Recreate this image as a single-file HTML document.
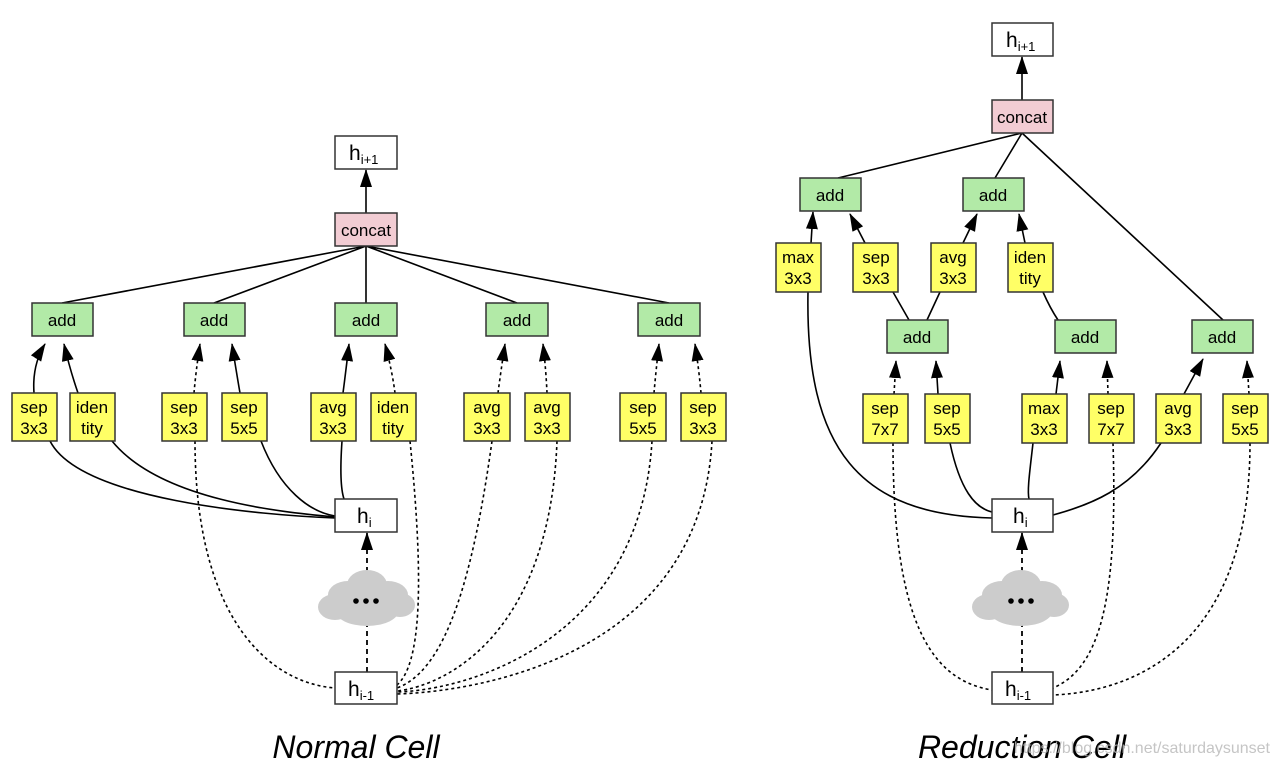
<!DOCTYPE html>
<html><head><meta charset="utf-8"><style>
html,body{margin:0;padding:0;background:#fff;}
svg{display:block;}
text{font-family:"Liberation Sans",Arial,sans-serif;fill:#000;}
.b{stroke:#333;stroke-width:1.5;}
.w{fill:#fff;}.p{fill:#f2ccd3;}.g{fill:#b2eaa7;}.y{fill:#ffff66;}
.s{fill:none;stroke:#000;stroke-width:1.6;}
.d{fill:none;stroke:#000;stroke-width:1.6;stroke-dasharray:3,3;}
.d2{fill:none;stroke:#000;stroke-width:1.8;stroke-dasharray:5,4;}
.t{font-size:17px;text-anchor:middle;}
</style></head><body>
<svg width="1280" height="770" viewBox="0 0 1280 770" xmlns="http://www.w3.org/2000/svg">
<defs>
<marker id="m" markerUnits="userSpaceOnUse" markerWidth="18" markerHeight="12" refX="17" refY="6" orient="auto" viewBox="0 0 18 12">
<path d="M0,0 L18,6 L0,12 Z" fill="#000"/>
</marker>
</defs>

<!-- ============ NORMAL CELL ============ -->
<g>
<path class="s" d="M366,246 L62,303 M366,246 L214,303 M366,246 L366,303 M366,246 L517,303 M366,246 L669,303"/>
<path class="s" d="M366,213 L366,170" marker-end="url(#m)"/>
<path class="s" d="M34,393 Q32,365 45,344" marker-end="url(#m)"/>
<path class="s" d="M78,393 Q70,370 64,344" marker-end="url(#m)"/>
<path class="d" d="M194,393 Q196,370 200,344" marker-end="url(#m)"/>
<path class="s" d="M240,393 Q236,370 232,344" marker-end="url(#m)"/>
<path class="s" d="M343,393 Q346,370 349,344" marker-end="url(#m)"/>
<path class="d" d="M395,393 Q392,370 385,344" marker-end="url(#m)"/>
<path class="d" d="M498,393 Q501,370 505,344" marker-end="url(#m)"/>
<path class="d" d="M547,393 Q546,370 543,344" marker-end="url(#m)"/>
<path class="d" d="M654,393 Q656,370 659,344" marker-end="url(#m)"/>
<path class="d" d="M701,393 Q699,370 695,344" marker-end="url(#m)"/>
<path class="s" d="M50,441 C80,500 260,515 335,518"/>
<path class="s" d="M112,441 C160,500 280,512 335,517"/>
<path class="s" d="M261,441 C280,490 310,512 335,516"/>
<path class="s" d="M342,441 C340,470 341,490 344,499"/>
<path class="d" d="M195,441 C195,620 270,683 335,688"/>
<path class="d" d="M410,441 C425,590 420,665 397,685"/>
<path class="d" d="M492,441 C470,600 440,672 397,688"/>
<path class="d" d="M557,441 C550,630 450,685 397,691"/>
<path class="d" d="M652,441 C640,640 470,690 397,692"/>
<path class="d" d="M712,441 C700,660 470,692 397,694"/>
<path class="d2" d="M367,672 L367,590"/>
<path class="d2" d="M367,590 L367,533" marker-end="url(#m)"/>

<rect class="b w" x="335" y="136" width="62" height="33"/>
<text x="349" y="160" font-size="21">h<tspan font-size="13" dy="4">i+1</tspan></text>
<rect class="b p" x="335" y="213" width="62" height="33"/>
<text class="t" x="366" y="236">concat</text>

<rect class="b g" x="32" y="303" width="61" height="33"/><text class="t" x="62" y="326">add</text>
<rect class="b g" x="184" y="303" width="61" height="33"/><text class="t" x="214" y="326">add</text>
<rect class="b g" x="335" y="303" width="62" height="33"/><text class="t" x="366" y="326">add</text>
<rect class="b g" x="486" y="303" width="62" height="33"/><text class="t" x="517" y="326">add</text>
<rect class="b g" x="638" y="303" width="62" height="33"/><text class="t" x="669" y="326">add</text>

<rect class="b y" x="12" y="393" width="45" height="48"/><text class="t" x="34" y="413">sep</text><text class="t" x="34" y="434">3x3</text>
<rect class="b y" x="70" y="393" width="45" height="48"/><text class="t" x="92" y="413">iden</text><text class="t" x="92" y="434">tity</text>
<rect class="b y" x="162" y="393" width="45" height="48"/><text class="t" x="184" y="413">sep</text><text class="t" x="184" y="434">3x3</text>
<rect class="b y" x="222" y="393" width="45" height="48"/><text class="t" x="244" y="413">sep</text><text class="t" x="244" y="434">5x5</text>
<rect class="b y" x="311" y="393" width="45" height="48"/><text class="t" x="333" y="413">avg</text><text class="t" x="333" y="434">3x3</text>
<rect class="b y" x="371" y="393" width="45" height="48"/><text class="t" x="393" y="413">iden</text><text class="t" x="393" y="434">tity</text>
<rect class="b y" x="464" y="393" width="46" height="48"/><text class="t" x="487" y="413">avg</text><text class="t" x="487" y="434">3x3</text>
<rect class="b y" x="525" y="393" width="45" height="48"/><text class="t" x="547" y="413">avg</text><text class="t" x="547" y="434">3x3</text>
<rect class="b y" x="620" y="393" width="46" height="48"/><text class="t" x="643" y="413">sep</text><text class="t" x="643" y="434">5x5</text>
<rect class="b y" x="681" y="393" width="45" height="48"/><text class="t" x="703" y="413">sep</text><text class="t" x="703" y="434">3x3</text>

<rect class="b w" x="335" y="499" width="62" height="33"/>
<text x="357" y="523" font-size="21">h<tspan font-size="13" dy="4">i</tspan></text>
<g fill="#cccccc">
<ellipse cx="367" cy="585" rx="20" ry="15"/>
<ellipse cx="348" cy="595" rx="20" ry="14"/>
<ellipse cx="388" cy="595" rx="20" ry="14"/>
<ellipse cx="335" cy="607" rx="17" ry="13"/>
<ellipse cx="400" cy="605" rx="15" ry="12"/>
<ellipse cx="367" cy="610" rx="32" ry="16"/>
</g>
<circle cx="356" cy="601" r="2.8"/><circle cx="366" cy="601" r="2.8"/><circle cx="376" cy="601" r="2.8"/>
<rect class="b w" x="335" y="672" width="62" height="32"/>
<text x="348" y="696" font-size="21">h<tspan font-size="13" dy="4">i-1</tspan></text>

<text x="356" y="758" font-size="32" font-style="italic" text-anchor="middle">Normal Cell</text>
</g>

<!-- ============ REDUCTION CELL ============ -->
<g>
<path class="s" d="M1022,133 L838,178 M1022,133 L995,178 M1022,133 L1223,320"/>
<path class="s" d="M1022,100 L1022,57" marker-end="url(#m)"/>
<path class="s" d="M811,243 L813,212" marker-end="url(#m)"/>
<path class="s" d="M865,243 L850,214" marker-end="url(#m)"/>
<path class="s" d="M963,243 L977,214" marker-end="url(#m)"/>
<path class="s" d="M1025,243 L1019,214" marker-end="url(#m)"/>
<path class="s" d="M909,320 L893,292 M927,320 L940,292"/>
<path class="s" d="M1058,320 Q1050,308 1043,292"/>
<path class="d" d="M894,394 L896,361" marker-end="url(#m)"/>
<path class="s" d="M938,394 L936,361" marker-end="url(#m)"/>
<path class="s" d="M1056,394 L1060,361" marker-end="url(#m)"/>
<path class="d" d="M1108,394 L1107,361" marker-end="url(#m)"/>
<path class="s" d="M1184,394 L1203,359" marker-end="url(#m)"/>
<path class="d" d="M1249,394 L1247,361" marker-end="url(#m)"/>
<path class="s" d="M808,292 C805,450 860,515 992,518"/>
<path class="s" d="M950,443 C960,490 975,508 992,512"/>
<path class="s" d="M1033,443 C1030,470 1027,490 1029,499"/>
<path class="s" d="M1161,443 C1130,490 1090,505 1053,515"/>
<path class="d" d="M893,443 C893,620 930,680 992,690"/>
<path class="d" d="M1113,443 C1118,600 1100,668 1053,688"/>
<path class="d" d="M1250,443 C1250,650 1130,692 1053,695"/>
<path class="d2" d="M1022,672 L1022,590"/>
<path class="d2" d="M1022,590 L1022,533" marker-end="url(#m)"/>

<rect class="b w" x="992" y="23" width="61" height="33"/>
<text x="1006" y="47" font-size="21">h<tspan font-size="13" dy="4">i+1</tspan></text>
<rect class="b p" x="992" y="100" width="61" height="33"/>
<text class="t" x="1022" y="123">concat</text>

<rect class="b g" x="800" y="178" width="61" height="33"/><text class="t" x="830" y="201">add</text>
<rect class="b g" x="963" y="178" width="61" height="33"/><text class="t" x="993" y="201">add</text>

<rect class="b y" x="776" y="243" width="45" height="49"/><text class="t" x="798" y="263">max</text><text class="t" x="798" y="284">3x3</text>
<rect class="b y" x="853" y="243" width="45" height="49"/><text class="t" x="876" y="263">sep</text><text class="t" x="876" y="284">3x3</text>
<rect class="b y" x="931" y="243" width="45" height="49"/><text class="t" x="953" y="263">avg</text><text class="t" x="953" y="284">3x3</text>
<rect class="b y" x="1008" y="243" width="45" height="49"/><text class="t" x="1030" y="263">iden</text><text class="t" x="1030" y="284">tity</text>

<rect class="b g" x="887" y="320" width="61" height="33"/><text class="t" x="917" y="343">add</text>
<rect class="b g" x="1055" y="320" width="61" height="33"/><text class="t" x="1085" y="343">add</text>
<rect class="b g" x="1192" y="320" width="61" height="33"/><text class="t" x="1222" y="343">add</text>

<rect class="b y" x="863" y="394" width="45" height="49"/><text class="t" x="885" y="414">sep</text><text class="t" x="885" y="435">7x7</text>
<rect class="b y" x="925" y="394" width="45" height="49"/><text class="t" x="947" y="414">sep</text><text class="t" x="947" y="435">5x5</text>
<rect class="b y" x="1022" y="394" width="45" height="49"/><text class="t" x="1044" y="414">max</text><text class="t" x="1044" y="435">3x3</text>
<rect class="b y" x="1089" y="394" width="45" height="49"/><text class="t" x="1111" y="414">sep</text><text class="t" x="1111" y="435">7x7</text>
<rect class="b y" x="1156" y="394" width="45" height="49"/><text class="t" x="1178" y="414">avg</text><text class="t" x="1178" y="435">3x3</text>
<rect class="b y" x="1223" y="394" width="45" height="49"/><text class="t" x="1245" y="414">sep</text><text class="t" x="1245" y="435">5x5</text>

<rect class="b w" x="992" y="499" width="61" height="33"/>
<text x="1013" y="523" font-size="21">h<tspan font-size="13" dy="4">i</tspan></text>
<g fill="#cccccc">
<ellipse cx="1021" cy="585" rx="20" ry="15"/>
<ellipse cx="1002" cy="595" rx="20" ry="14"/>
<ellipse cx="1042" cy="595" rx="20" ry="14"/>
<ellipse cx="989" cy="607" rx="17" ry="13"/>
<ellipse cx="1054" cy="605" rx="15" ry="12"/>
<ellipse cx="1021" cy="610" rx="32" ry="16"/>
</g>
<circle cx="1011" cy="601" r="2.8"/><circle cx="1021" cy="601" r="2.8"/><circle cx="1031" cy="601" r="2.8"/>
<rect class="b w" x="992" y="672" width="61" height="32"/>
<text x="1005" y="696" font-size="21">h<tspan font-size="13" dy="4">i-1</tspan></text>

<text x="1022" y="758" font-size="32" font-style="italic" text-anchor="middle">Reduction Cell</text>
<text x="1270" y="753" font-size="16" text-anchor="end" style="fill:#bbbbbb;fill-opacity:0.85">https://blog.csdn.net/saturdaysunset</text>
</g>
</svg>
</body></html>
